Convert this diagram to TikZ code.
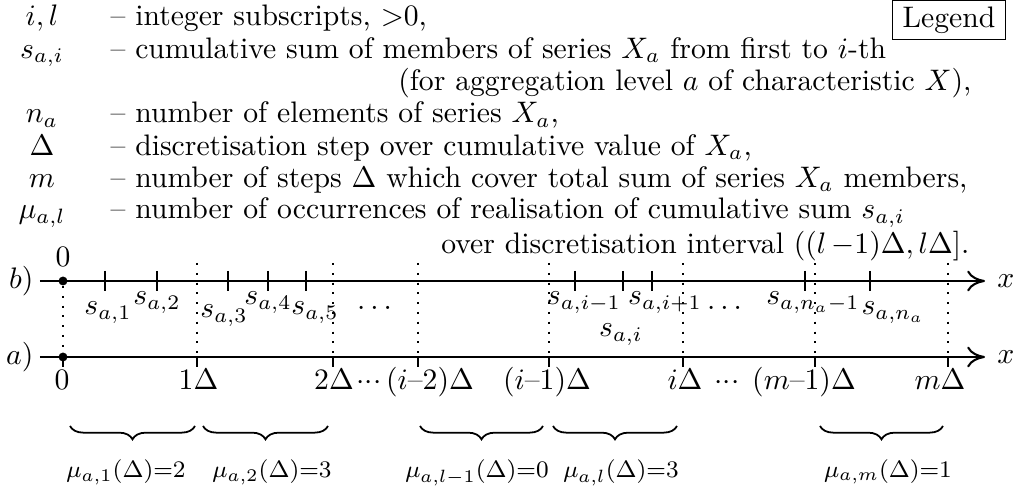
\documentclass[tikz,border=0pt]{standalone}
\usepackage{amsmath}
\usepackage{tikz}
\usetikzlibrary{arrows.meta,positioning,decorations.pathreplacing}

\begin{document}
\begin{tikzpicture}[x=0.337pt, y=-0.337pt,
  axisline/.style={line width=0.7pt, -{To[length=6pt,width=7pt]}},
  tickmark/.style={line width=0.7pt},
  guide/.style={line width=0.7pt, dash pattern=on 0.7pt off 2.6pt},
  dot/.style={circle, fill, inner sep=0pt, minimum size=3pt},
  sym/.style={anchor=base, inner sep=0pt},
  desc/.style={anchor=base west, inner sep=0pt},
  descr/.style={anchor=base east, inner sep=0pt},
  sumlbl/.style={anchor=base, inner sep=0pt},
  steplbl/.style={anchor=base, inner sep=0pt},
  countlbl/.style={anchor=base, inner sep=0pt, font=\footnotesize},
  group/.style={decorate, decoration={brace, mirror, amplitude=4.5pt}, line width=0.6pt}
]
  \useasboundingbox (0,0) rectangle (1019,495);

  % legend
  \node[draw, line width=0.4pt, inner xsep=3.5pt, inner ysep=2pt] (legend) at (949,20) {Legend};
  \node[sym] (sym1) at (42,26) {$i,l$};
  \node[desc] (txt1) at (110,26) {-- integer subscripts, ${>}0$,};
  \node[sym] (sym2) at (42,58.3) {$s_{a,i}$};
  \node[desc] (txt2) at (110,58.3) {-- cumulative sum of members of series $X_a$ from first to $i$-th};
  \node[descr] (txt3) at (972,90.6) {(for aggregation level $a$ of characteristic $X$),};
  \node[sym] (sym4) at (42,122.9) {$n_a$};
  \node[desc] (txt4) at (110,122.9) {-- number of elements of series $X_a$,};
  \node[sym] (sym5) at (42,155.2) {$\Delta$};
  \node[desc] (txt5) at (110,155.2) {-- discretisation step over cumulative value of $X_a$,};
  \node[sym] (sym6) at (42,187.5) {$m$};
  \node[desc] (txt6) at (110,187.5) {-- number of steps $\Delta$ which cover total sum of series $X_a$ members,};
  \node[sym] (sym7) at (42,219) {$\mu_{a,l}$};
  \node[desc] (txt7) at (110,219) {-- number of occurrences of realisation of cumulative sum $s_{a,i}$};
  \node[descr] (txt8) at (970,254) {over discretisation interval $((l\,{-}1)\Delta, l\Delta]$.};

  % axis b
  \coordinate (bstart) at (40,281);
  \coordinate (bend) at (985,281);
  \draw[axisline] (bstart) -- (bend);
  \node[left=0pt of bstart, inner sep=2pt] (blabel) {$b)$};
  \node[right=2pt of bend, inner sep=2pt] (bx) {$x$};
  \node[dot] (ob) at (63,281) {};
  \node[sumlbl] (zb) at (63,267) {$0$};
  \draw[tickmark] (105,271) -- (105,291) (157,271) -- (157,291) (228,271) -- (228,291)
    (268,271) -- (268,291) (306,271) -- (306,291) (575,271) -- (575,291)
    (623,271) -- (623,291) (652,271) -- (652,291) (805,271) -- (805,291)
    (870,271) -- (870,291);
  \node[sumlbl] (s1) at (108,315) {$s_{a,1}$};
  \node[sumlbl] (s2) at (157,305) {$s_{a,2}$};
  \node[sumlbl] (s3) at (224,318) {$s_{a,3}$};
  \node[sumlbl] (s4) at (268,305) {$s_{a,4}$};
  \node[sumlbl] (s5) at (315,315) {$s_{a,5}$};
  \node[sumlbl] (sdots) at (377,310) {$\dots$};
  \node[sumlbl] (sprev) at (584,305) {$s_{a,i-1}$};
  \node[sumlbl] (si) at (621,337) {$s_{a,i}$};
  \node[sumlbl] (snext) at (665,305) {$s_{a,i+1}$};
  \node[sumlbl] (sdots2) at (727,310) {$\dots$};
  \node[sumlbl] (slast1) at (813,305) {$s_{a,n_a-1}$};
  \node[sumlbl] (slast) at (893,315) {$s_{a,n_a}$};

  % axis a
  \coordinate (astart) at (40,357);
  \coordinate (aend) at (985,357);
  \draw[axisline] (astart) -- (aend);
  \node[left=0pt of astart, inner sep=2pt] (alabel) {$a)$};
  \node[right=2pt of aend, inner sep=2pt] (ax) {$x$};
  \node[dot] (oa) at (63,357) {};
  \draw[tickmark] (63,357) -- (63,367) (197,357) -- (197,367) (333,357) -- (333,367)
    (418,357) -- (418,367) (549,357) -- (549,367) (683,357) -- (683,367)
    (815,357) -- (815,367) (948,357) -- (948,367);
  \node[steplbl] (d0) at (62,390) {$0$};
  \node[steplbl] (d1) at (198.5,390) {$1\Delta$};
  \node[steplbl] (d2) at (334,390) {$2\Delta$};
  \node[steplbl] (ddots) at (369,390) {${\cdot}{\cdot}{\cdot}$};
  \node[steplbl] (dim2) at (430,390) {$(i$--$2)\Delta$};
  \node[steplbl] (dim1) at (547,390) {$(i$--$1)\Delta$};
  \node[steplbl] (di) at (685,390) {$i\Delta$};
  \node[steplbl] (ddots2) at (727,390) {${\cdot}{\cdot}{\cdot}$};
  \node[steplbl] (dmm1) at (804,390) {$(m$--$1)\Delta$};
  \node[steplbl] (dm) at (940,390) {$m\Delta$};

  % dotted step boundaries
  \draw[guide] (ob) -- (oa);
  \draw[guide] (197,263) -- (197,357) (333,263) -- (333,357) (418,263) -- (418,357)
    (549,263) -- (549,357) (683,263) -- (683,357) (815,263) -- (815,357)
    (948,263) -- (948,357);

  % counts per interval
  \draw[group] (70,426) -- (195,426);
  \draw[group] (203,426) -- (328,426);
  \draw[group] (420,426) -- (543,426);
  \draw[group] (553,426) -- (677,426);
  \draw[group] (820,426) -- (943,426);
  \node[countlbl] (mu1) at (126,478) {$\mu_{a,1}(\Delta){=}2$};
  \node[countlbl] (mu2) at (272,478) {$\mu_{a,2}(\Delta){=}3$};
  \node[countlbl] (mulm1) at (477,478) {$\mu_{a,l-1}(\Delta){=}0$};
  \node[countlbl] (mul) at (621,478) {$\mu_{a,l}(\Delta){=}3$};
  \node[countlbl] (mum) at (888,478) {$\mu_{a,m}(\Delta){=}1$};
\end{tikzpicture}
\end{document}
